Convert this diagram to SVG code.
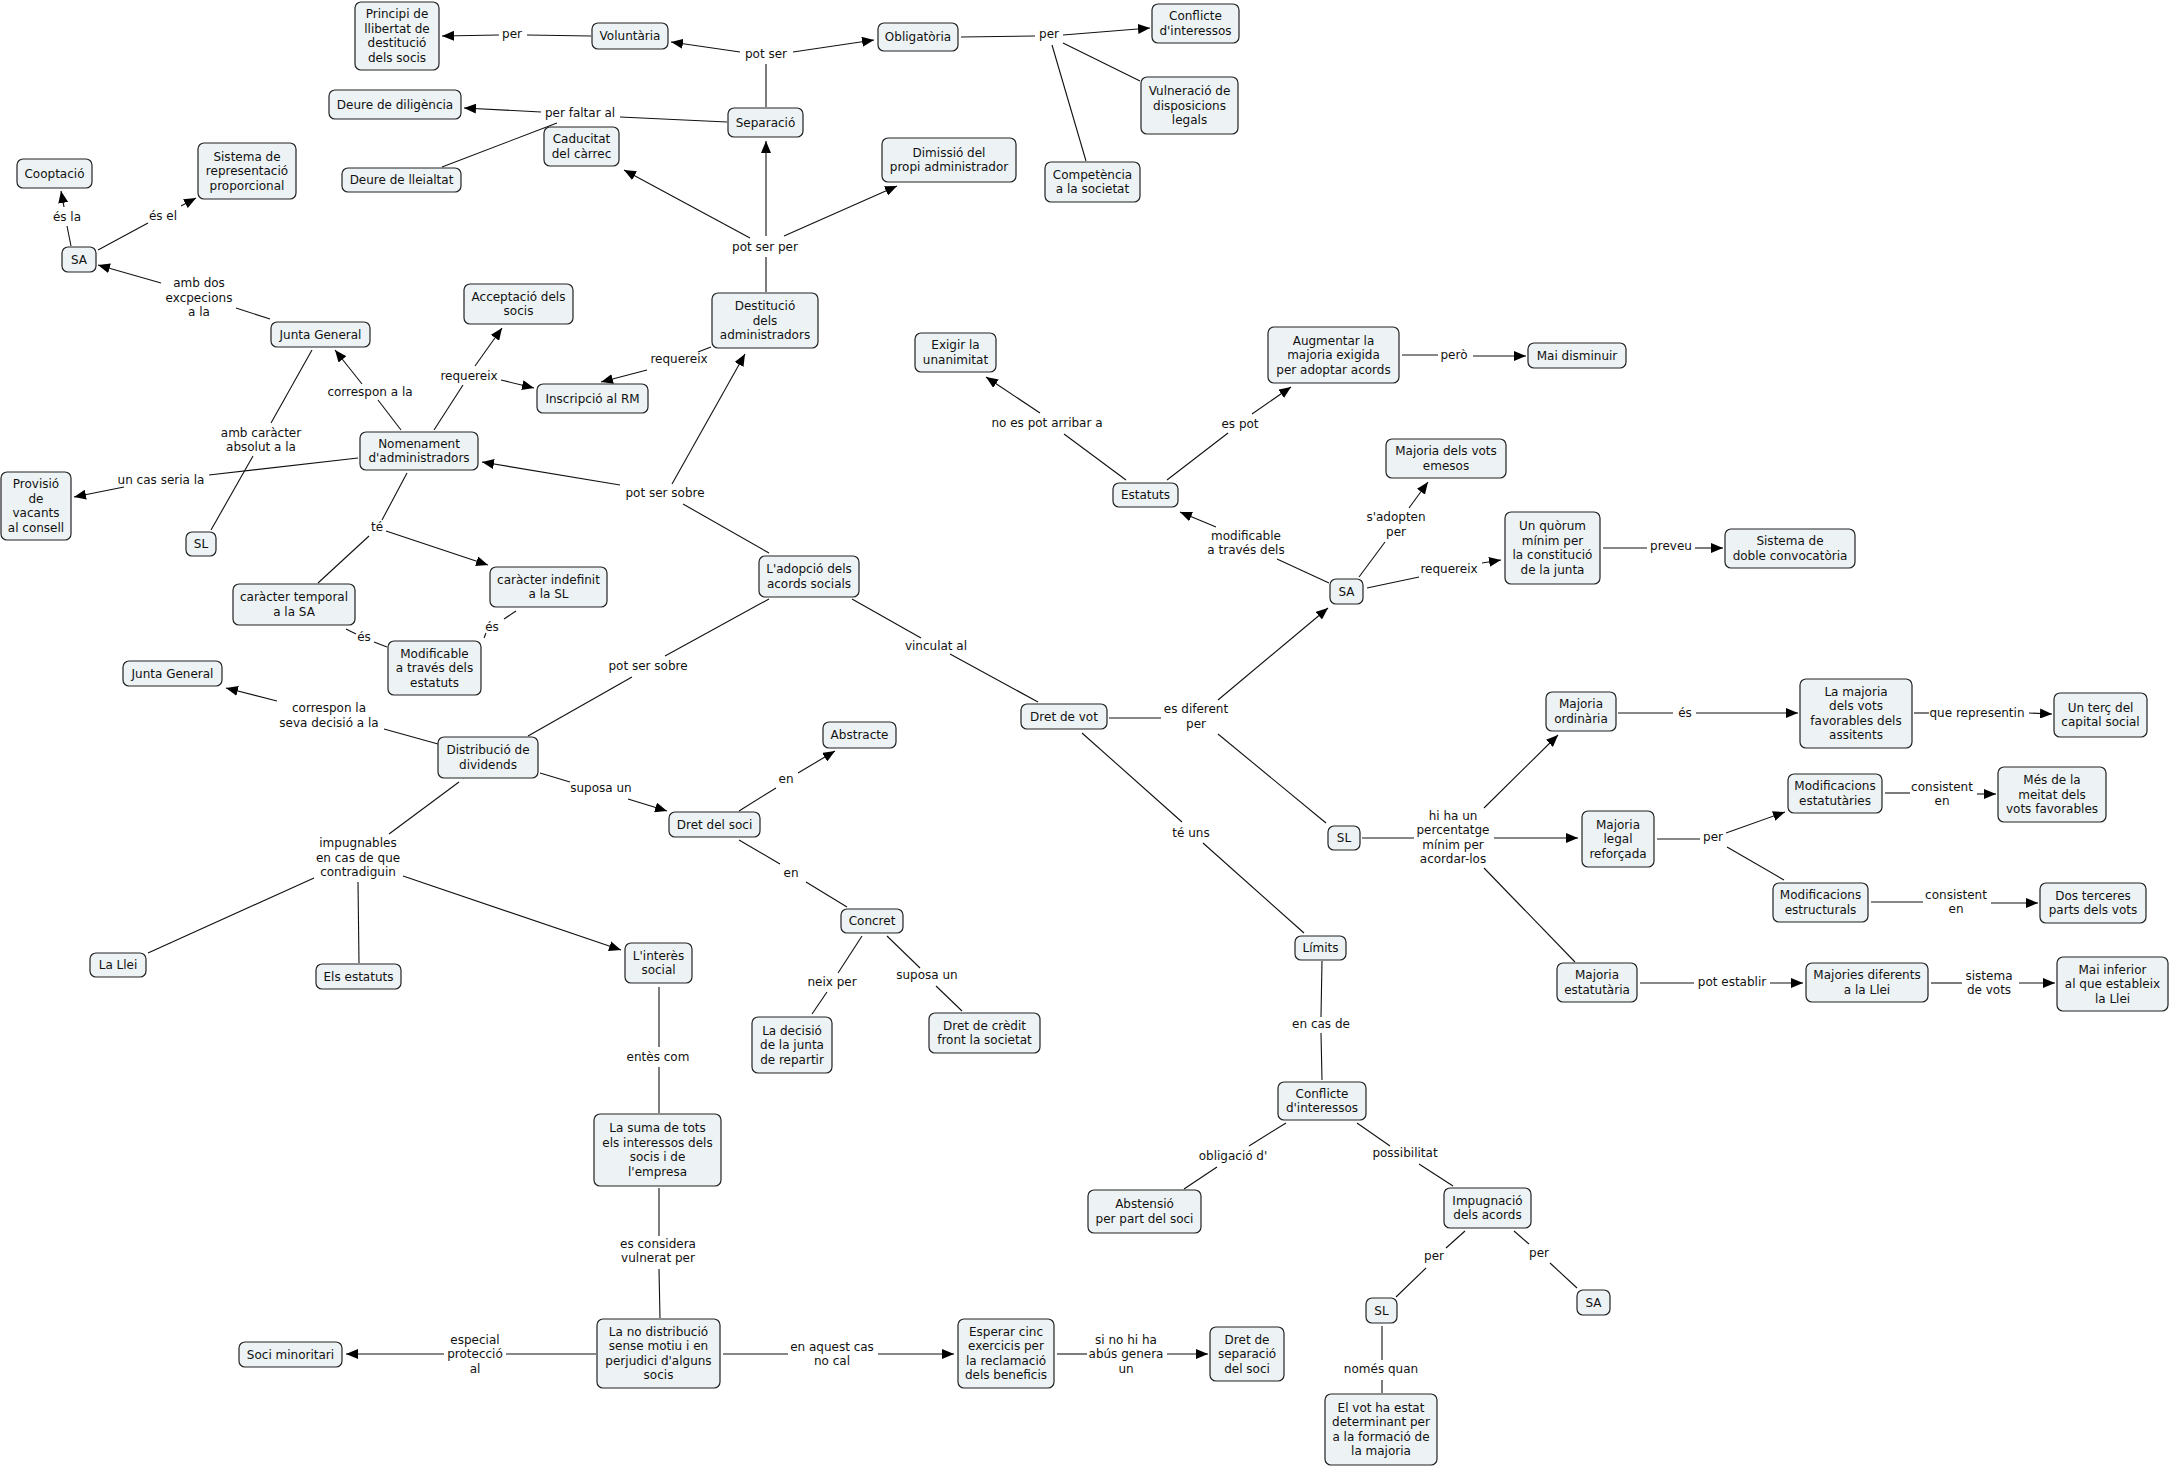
<svg xmlns="http://www.w3.org/2000/svg" width="2171" height="1467" viewBox="0 0 2171 1467">
<style>
.n rect{fill:#edf3f5;stroke:#222;stroke-width:1.2}
text{font-family:"DejaVu Sans",Verdana,"Liberation Sans",sans-serif;font-size:12px;fill:#111;text-anchor:middle}
.c line{stroke:#111;stroke-width:1.1}
.c .a{marker-end:url(#ah)}
</style>
<defs>
<marker id="ah" viewBox="0 0 12 10" refX="12" refY="5" markerWidth="12" markerHeight="10" markerUnits="userSpaceOnUse" orient="auto"><path d="M0,0 L12,5 L0,10 z" fill="#000"/></marker>
</defs>
<rect width="2171" height="1467" fill="#fff"/>
<g class="c" id="connectors">
<line x1="591" y1="36" x2="527" y2="35"/><line class="a" x1="499" y1="35" x2="442" y2="36"/>
<line x1="766" y1="107" x2="766" y2="64"/><line class="a" x1="740" y1="52" x2="671" y2="42"/><line class="a" x1="793" y1="52" x2="874" y2="40"/>
<line x1="961" y1="37" x2="1035" y2="36"/><line class="a" x1="1063" y1="35" x2="1150" y2="28"/><line x1="1063" y1="43" x2="1140" y2="81"/><line x1="1052" y1="45" x2="1086" y2="161"/>
<line x1="727" y1="122" x2="620" y2="117"/><line class="a" x1="541" y1="112" x2="464" y2="108"/><line x1="557" y1="123" x2="442" y2="167"/>
<line x1="766" y1="292" x2="766" y2="257"/><line class="a" x1="750" y1="238" x2="624" y2="170"/><line class="a" x1="766" y1="236" x2="766" y2="141"/><line class="a" x1="784" y1="236" x2="897" y2="186"/>
<line x1="71" y1="246" x2="67" y2="226"/><line class="a" x1="64" y1="207" x2="61" y2="191"/>
<line x1="98" y1="250" x2="148" y2="223"/><line class="a" x1="181" y1="206" x2="196" y2="198"/>
<line x1="270" y1="319" x2="236" y2="308"/><line class="a" x1="161" y1="283" x2="98" y2="265"/>
<line x1="401" y1="430" x2="378" y2="400"/><line class="a" x1="362" y1="384" x2="335" y2="350"/>
<line x1="434" y1="430" x2="463" y2="385"/><line class="a" x1="475" y1="366" x2="502" y2="328"/><line class="a" x1="501" y1="380" x2="534" y2="388"/>
<line x1="711" y1="347" x2="698" y2="352"/><line class="a" x1="647" y1="370" x2="601" y2="382"/>
<line x1="312" y1="350" x2="271" y2="423"/><line x1="253" y1="456" x2="211" y2="530"/>
<line x1="358" y1="458" x2="209" y2="475"/><line class="a" x1="124" y1="487" x2="74" y2="497"/>
<line x1="769" y1="553" x2="683" y2="504"/><line class="a" x1="620" y1="485" x2="482" y2="462"/><line class="a" x1="672" y1="484" x2="745" y2="354"/>
<line x1="407" y1="473" x2="382" y2="520"/><line x1="369" y1="536" x2="318" y2="583"/><line class="a" x1="386" y1="531" x2="488" y2="565"/>
<line x1="346" y1="629" x2="356" y2="634"/><line x1="374" y1="642" x2="387" y2="647"/>
<line x1="516" y1="611" x2="504" y2="619"/><line x1="486" y1="633" x2="484" y2="638"/>
<line x1="438" y1="744" x2="384" y2="729"/><line class="a" x1="277" y1="701" x2="226" y2="688"/>
<line x1="769" y1="599" x2="665" y2="656"/><line x1="632" y1="677" x2="528" y2="736"/>
<line x1="852" y1="599" x2="921" y2="638"/><line x1="950" y1="654" x2="1038" y2="702"/>
<line x1="540" y1="773" x2="570" y2="782"/><line class="a" x1="628" y1="799" x2="667" y2="811"/>
<line x1="739" y1="811" x2="776" y2="788"/><line class="a" x1="798" y1="773" x2="835" y2="751"/>
<line x1="739" y1="840" x2="780" y2="864"/><line x1="806" y1="882" x2="847" y2="907"/>
<line x1="459" y1="782" x2="389" y2="834"/><line x1="314" y1="878" x2="148" y2="953"/><line x1="358" y1="882" x2="359" y2="963"/><line class="a" x1="403" y1="876" x2="621" y2="950"/>
<line x1="862" y1="936" x2="838" y2="973"/><line x1="827" y1="992" x2="812" y2="1014"/>
<line x1="887" y1="936" x2="920" y2="968"/><line x1="936" y1="986" x2="962" y2="1011"/>
<line x1="659" y1="987" x2="659" y2="1047"/><line x1="659" y1="1067" x2="659" y2="1113"/>
<line x1="659" y1="1188" x2="659" y2="1236"/><line x1="659" y1="1269" x2="660" y2="1318"/>
<line x1="596" y1="1354" x2="506" y2="1354"/><line class="a" x1="444" y1="1354" x2="346" y2="1354"/>
<line x1="723" y1="1354" x2="788" y2="1354"/><line class="a" x1="878" y1="1354" x2="954" y2="1354"/>
<line x1="1057" y1="1354" x2="1087" y2="1354"/><line class="a" x1="1167" y1="1354" x2="1208" y2="1354"/>
<line x1="1126" y1="480" x2="1064" y2="434"/><line class="a" x1="1040" y1="413" x2="986" y2="377"/>
<line x1="1167" y1="480" x2="1228" y2="433"/><line class="a" x1="1252" y1="414" x2="1291" y2="387"/>
<line x1="1402" y1="355" x2="1438" y2="355"/><line class="a" x1="1473" y1="356" x2="1526" y2="356"/>
<line x1="1329" y1="583" x2="1277" y2="559"/><line class="a" x1="1216" y1="527" x2="1180" y2="512"/>
<line x1="1359" y1="577" x2="1385" y2="542"/><line class="a" x1="1409" y1="508" x2="1428" y2="482"/>
<line x1="1367" y1="588" x2="1419" y2="577"/><line class="a" x1="1482" y1="563" x2="1501" y2="560"/>
<line x1="1603" y1="548" x2="1647" y2="548"/><line class="a" x1="1695" y1="548" x2="1723" y2="548"/>
<line x1="1109" y1="718" x2="1161" y2="718"/><line class="a" x1="1218" y1="700" x2="1328" y2="608"/><line x1="1218" y1="734" x2="1326" y2="823"/>
<line x1="1082" y1="733" x2="1182" y2="822"/><line x1="1203" y1="843" x2="1304" y2="933"/>
<line x1="1362" y1="838" x2="1414" y2="838"/><line class="a" x1="1484" y1="808" x2="1558" y2="735"/><line class="a" x1="1494" y1="838" x2="1578" y2="838"/><line x1="1484" y1="868" x2="1575" y2="962"/>
<line x1="1618" y1="713" x2="1673" y2="713"/><line class="a" x1="1696" y1="713" x2="1798" y2="713"/>
<line x1="1914" y1="713" x2="1929" y2="713"/><line class="a" x1="2029" y1="713" x2="2052" y2="714"/>
<line x1="1657" y1="839" x2="1700" y2="839"/><line class="a" x1="1726" y1="833" x2="1785" y2="812"/><line x1="1727" y1="847" x2="1784" y2="880"/>
<line x1="1885" y1="793" x2="1910" y2="793"/><line class="a" x1="1977" y1="794" x2="1996" y2="794"/>
<line x1="1871" y1="902" x2="1923" y2="902"/><line class="a" x1="1991" y1="903" x2="2038" y2="903"/>
<line x1="1640" y1="983" x2="1694" y2="983"/><line class="a" x1="1770" y1="983" x2="1803" y2="983"/>
<line x1="1931" y1="983" x2="1962" y2="983"/><line class="a" x1="2019" y1="983" x2="2055" y2="983"/>
<line x1="1322" y1="961" x2="1321" y2="1017"/><line x1="1321" y1="1033" x2="1322" y2="1080"/>
<line x1="1286" y1="1123" x2="1249" y2="1146"/><line x1="1217" y1="1167" x2="1184" y2="1189"/>
<line x1="1357" y1="1123" x2="1390" y2="1146"/><line x1="1419" y1="1164" x2="1453" y2="1186"/>
<line x1="1465" y1="1231" x2="1446" y2="1248"/><line x1="1426" y1="1268" x2="1396" y2="1297"/>
<line x1="1514" y1="1231" x2="1529" y2="1244"/><line x1="1550" y1="1263" x2="1577" y2="1288"/>
<line x1="1382" y1="1326" x2="1382" y2="1360"/><line x1="1382" y1="1380" x2="1382" y2="1393"/>
</g>
<g id="labels">
<text x="512" y="38">per</text>
<text x="766" y="58">pot ser</text>
<text x="1049" y="38">per</text>
<text x="580" y="117">per faltar al</text>
<text x="765" y="251">pot ser per</text>
<text x="67" y="221">és la</text>
<text x="163" y="220">és el</text>
<text x="199" y="287">amb dos</text><text x="199" y="302">excpecions</text><text x="199" y="316">a la</text>
<text x="370" y="396">correspon a la</text>
<text x="469" y="380">requereix</text>
<text x="679" y="363">requereix</text>
<text x="261" y="437">amb caràcter</text><text x="261" y="451">absolut a la</text>
<text x="161" y="484">un cas seria la</text>
<text x="665" y="497">pot ser sobre</text>
<text x="377" y="531">té</text>
<text x="364" y="641">és</text>
<text x="492" y="631">és</text>
<text x="329" y="712">correspon la</text><text x="329" y="727">seva decisió a la</text>
<text x="648" y="670">pot ser sobre</text>
<text x="936" y="650">vinculat al</text>
<text x="601" y="792">suposa un</text>
<text x="786" y="783">en</text>
<text x="791" y="877">en</text>
<text x="358" y="847">impugnables</text><text x="358" y="862">en cas de que</text><text x="358" y="876">contradiguin</text>
<text x="832" y="986">neix per</text>
<text x="927" y="979">suposa un</text>
<text x="658" y="1061">entès com</text>
<text x="658" y="1248">es considera</text><text x="658" y="1262">vulnerat per</text>
<text x="475" y="1344">especial</text><text x="475" y="1358">protecció</text><text x="475" y="1373">al</text>
<text x="832" y="1351">en aquest cas</text><text x="832" y="1365">no cal</text>
<text x="1126" y="1344">si no hi ha</text><text x="1126" y="1358">abús genera</text><text x="1126" y="1373">un</text>
<text x="1047" y="427">no es pot arribar a</text>
<text x="1240" y="428">es pot</text>
<text x="1454" y="359">però</text>
<text x="1246" y="540">modificable</text><text x="1246" y="554">a través dels</text>
<text x="1396" y="521">s'adopten</text><text x="1396" y="536">per</text>
<text x="1449" y="573">requereix</text>
<text x="1671" y="550">preveu</text>
<text x="1196" y="713">es diferent</text><text x="1196" y="728">per</text>
<text x="1191" y="837">té uns</text>
<text x="1453" y="820">hi ha un</text><text x="1453" y="834">percentatge</text><text x="1453" y="849">mínim per</text><text x="1453" y="863">acordar-los</text>
<text x="1685" y="717">és</text>
<text x="1977" y="717">que representin</text>
<text x="1713" y="841">per</text>
<text x="1942" y="791">consistent</text><text x="1942" y="805">en</text>
<text x="1956" y="899">consistent</text><text x="1956" y="913">en</text>
<text x="1732" y="986">pot establir</text>
<text x="1989" y="980">sistema</text><text x="1989" y="994">de vots</text>
<text x="1321" y="1028">en cas de</text>
<text x="1233" y="1160">obligació d'</text>
<text x="1405" y="1157">possibilitat</text>
<text x="1434" y="1260">per</text>
<text x="1539" y="1257">per</text>
<text x="1381" y="1373">només quan</text>
</g>
<g class="n" id="n-principi"><rect x="355" y="2" width="84" height="68" rx="6"/><text x="397"><tspan x="397" y="18.25">Principi de</tspan><tspan x="397" y="32.75">llibertat de</tspan><tspan x="397" y="47.25">destitució</tspan><tspan x="397" y="61.75">dels socis</tspan></text></g>
<g class="n" id="n-voluntaria"><rect x="592" y="23" width="76" height="26" rx="6"/><text x="630" y="40">Voluntària</text></g>
<g class="n" id="n-obligatoria"><rect x="878" y="23" width="80" height="28" rx="6"/><text x="918" y="41">Obligatòria</text></g>
<g class="n" id="n-conflicte1"><rect x="1152" y="4" width="87" height="39" rx="6"/><text><tspan x="1195.5" y="20.25">Conflicte</tspan><tspan x="1195.5" y="34.75">d'interessos</tspan></text></g>
<g class="n" id="n-vulneracio"><rect x="1141" y="77" width="97" height="57" rx="6"/><text><tspan x="1189.5" y="95">Vulneració de</tspan><tspan x="1189.5" y="109.5">disposicions</tspan><tspan x="1189.5" y="124">legals</tspan></text></g>
<g class="n" id="n-competencia"><rect x="1045" y="162" width="95" height="40" rx="6"/><text><tspan x="1092.5" y="178.75">Competència</tspan><tspan x="1092.5" y="193.25">a la societat</tspan></text></g>
<g class="n" id="n-diligencia"><rect x="329" y="90" width="132" height="29" rx="6"/><text x="395" y="108.5">Deure de diligència</text></g>
<g class="n" id="n-separacio"><rect x="728" y="108" width="75" height="29" rx="6"/><text x="765.5" y="126.5">Separació</text></g>
<g class="n" id="n-caducitat"><rect x="544" y="127" width="75" height="39" rx="6"/><text><tspan x="581.5" y="143.25">Caducitat</tspan><tspan x="581.5" y="157.75">del càrrec</tspan></text></g>
<g class="n" id="n-dimissio"><rect x="882" y="138" width="134" height="44" rx="6"/><text><tspan x="949" y="156.75">Dimissió del</tspan><tspan x="949" y="171.25">propi administrador</tspan></text></g>
<g class="n" id="n-lleialtat"><rect x="342" y="168" width="119" height="24" rx="6"/><text x="401.5" y="184">Deure de lleialtat</text></g>
<g class="n" id="n-cooptacio"><rect x="17" y="159" width="75" height="29" rx="6"/><text x="54.5" y="177.5">Cooptació</text></g>
<g class="n" id="n-sistemarep"><rect x="198" y="143" width="98" height="56" rx="6"/><text><tspan x="247" y="160.5">Sistema de</tspan><tspan x="247" y="175">representació</tspan><tspan x="247" y="189.5">proporcional</tspan></text></g>
<g class="n" id="n-sa1"><rect x="62" y="247" width="34" height="25" rx="6"/><text x="79" y="263.5">SA</text></g>
<g class="n" id="n-junta1"><rect x="271" y="322" width="99" height="25" rx="6"/><text x="320.5" y="338.5">Junta General</text></g>
<g class="n" id="n-acceptacio"><rect x="464" y="284" width="109" height="40" rx="6"/><text><tspan x="518.5" y="300.75">Acceptació dels</tspan><tspan x="518.5" y="315.25">socis</tspan></text></g>
<g class="n" id="n-destitucio"><rect x="712" y="293" width="106" height="55" rx="6"/><text><tspan x="765" y="310">Destitució</tspan><tspan x="765" y="324.5">dels</tspan><tspan x="765" y="339">administradors</tspan></text></g>
<g class="n" id="n-inscripcio"><rect x="537" y="384" width="111" height="29" rx="6"/><text x="592.5" y="402.5">Inscripció al RM</text></g>
<g class="n" id="n-nomenament"><rect x="360" y="432" width="118" height="38" rx="6"/><text><tspan x="419" y="447.75">Nomenament</tspan><tspan x="419" y="462.25">d'administradors</tspan></text></g>
<g class="n" id="n-provisio"><rect x="1" y="472" width="70" height="68" rx="6"/><text><tspan x="36" y="488.25">Provisió</tspan><tspan x="36" y="502.75">de</tspan><tspan x="36" y="517.25">vacants</tspan><tspan x="36" y="531.75">al consell</tspan></text></g>
<g class="n" id="n-sl1"><rect x="186" y="532" width="30" height="24" rx="6"/><text x="201" y="548">SL</text></g>
<g class="n" id="n-exigir"><rect x="915" y="333" width="81" height="39" rx="6"/><text><tspan x="955.5" y="349.25">Exigir la</tspan><tspan x="955.5" y="363.75">unanimitat</tspan></text></g>
<g class="n" id="n-augmentar"><rect x="1268" y="327" width="131" height="56" rx="6"/><text><tspan x="1333.5" y="344.5">Augmentar la</tspan><tspan x="1333.5" y="359">majoria exigida</tspan><tspan x="1333.5" y="373.5">per adoptar acords</tspan></text></g>
<g class="n" id="n-maidisminuir"><rect x="1528" y="343" width="98" height="25" rx="6"/><text x="1577" y="359.5">Mai disminuir</text></g>
<g class="n" id="n-majoriaemesos"><rect x="1386" y="439" width="120" height="39" rx="6"/><text><tspan x="1446" y="455.25">Majoria dels vots</tspan><tspan x="1446" y="469.75">emesos</tspan></text></g>
<g class="n" id="n-estatuts"><rect x="1113" y="483" width="65" height="24" rx="6"/><text x="1145.5" y="499">Estatuts</text></g>
<g class="n" id="n-sa2"><rect x="1330" y="579" width="33" height="25" rx="6"/><text x="1346.5" y="595.5">SA</text></g>
<g class="n" id="n-quorum"><rect x="1505" y="512" width="95" height="72" rx="6"/><text><tspan x="1552.5" y="530.25">Un quòrum</tspan><tspan x="1552.5" y="544.75">mínim per</tspan><tspan x="1552.5" y="559.25">la constitució</tspan><tspan x="1552.5" y="573.75">de la junta</tspan></text></g>
<g class="n" id="n-dobleconv"><rect x="1725" y="529" width="130" height="39" rx="6"/><text><tspan x="1790" y="545.25">Sistema de</tspan><tspan x="1790" y="559.75">doble convocatòria</tspan></text></g>
<g class="n" id="n-adopcio"><rect x="759" y="556" width="100" height="41" rx="6"/><text><tspan x="809" y="573.25">L'adopció dels</tspan><tspan x="809" y="587.75">acords socials</tspan></text></g>
<g class="n" id="n-temporal"><rect x="233" y="584" width="122" height="41" rx="6"/><text><tspan x="294" y="601.25">caràcter temporal</tspan><tspan x="294" y="615.75">a la SA</tspan></text></g>
<g class="n" id="n-indefinit"><rect x="490" y="567" width="117" height="40" rx="6"/><text><tspan x="548.5" y="583.75">caràcter indefinit</tspan><tspan x="548.5" y="598.25">a la SL</tspan></text></g>
<g class="n" id="n-modificable"><rect x="388" y="641" width="93" height="54" rx="6"/><text><tspan x="434.5" y="657.5">Modificable</tspan><tspan x="434.5" y="672">a través dels</tspan><tspan x="434.5" y="686.5">estatuts</tspan></text></g>
<g class="n" id="n-junta2"><rect x="123" y="661" width="99" height="25" rx="6"/><text x="172.5" y="677.5">Junta General</text></g>
<g class="n" id="n-distribucio"><rect x="438" y="737" width="100" height="41" rx="6"/><text><tspan x="488" y="754.25">Distribució de</tspan><tspan x="488" y="768.75">dividends</tspan></text></g>
<g class="n" id="n-abstracte"><rect x="823" y="722" width="73" height="26" rx="6"/><text x="859.5" y="739">Abstracte</text></g>
<g class="n" id="n-dretvot"><rect x="1021" y="704" width="86" height="25" rx="6"/><text x="1064" y="720.5">Dret de vot</text></g>
<g class="n" id="n-majord"><rect x="1546" y="692" width="70" height="39" rx="6"/><text><tspan x="1581" y="708.25">Majoria</tspan><tspan x="1581" y="722.75">ordinària</tspan></text></g>
<g class="n" id="n-majoriafav"><rect x="1800" y="679" width="112" height="69" rx="6"/><text><tspan x="1856" y="695.75">La majoria</tspan><tspan x="1856" y="710.25">dels vots</tspan><tspan x="1856" y="724.75">favorables dels</tspan><tspan x="1856" y="739.25">assitents</tspan></text></g>
<g class="n" id="n-terccapital"><rect x="2054" y="693" width="93" height="44" rx="6"/><text><tspan x="2100.5" y="711.75">Un terç del</tspan><tspan x="2100.5" y="726.25">capital social</tspan></text></g>
<g class="n" id="n-modestat"><rect x="1788" y="774" width="94" height="39" rx="6"/><text><tspan x="1835" y="790.25">Modificacions</tspan><tspan x="1835" y="804.75">estatutàries</tspan></text></g>
<g class="n" id="n-mesmeitat"><rect x="1998" y="767" width="108" height="55" rx="6"/><text><tspan x="2052" y="784">Més de la</tspan><tspan x="2052" y="798.5">meitat dels</tspan><tspan x="2052" y="813">vots favorables</tspan></text></g>
<g class="n" id="n-dretsoci"><rect x="669" y="812" width="91" height="25" rx="6"/><text x="714.5" y="828.5">Dret del soci</text></g>
<g class="n" id="n-sl2"><rect x="1328" y="826" width="32" height="24" rx="6"/><text x="1344" y="842">SL</text></g>
<g class="n" id="n-majlegal"><rect x="1582" y="811" width="72" height="56" rx="6"/><text><tspan x="1618" y="828.5">Majoria</tspan><tspan x="1618" y="843">legal</tspan><tspan x="1618" y="857.5">reforçada</tspan></text></g>
<g class="n" id="n-modestruct"><rect x="1773" y="883" width="95" height="39" rx="6"/><text><tspan x="1820.5" y="899.25">Modificacions</tspan><tspan x="1820.5" y="913.75">estructurals</tspan></text></g>
<g class="n" id="n-dosterceres"><rect x="2040" y="883" width="106" height="40" rx="6"/><text><tspan x="2093" y="899.75">Dos terceres</tspan><tspan x="2093" y="914.25">parts dels vots</tspan></text></g>
<g class="n" id="n-concret"><rect x="841" y="909" width="62" height="24" rx="6"/><text x="872" y="925">Concret</text></g>
<g class="n" id="n-limits"><rect x="1295" y="936" width="51" height="24" rx="6"/><text x="1320.5" y="952">Límits</text></g>
<g class="n" id="n-lallei"><rect x="90" y="953" width="56" height="24" rx="6"/><text x="118" y="969">La Llei</text></g>
<g class="n" id="n-elsestatuts"><rect x="316" y="964" width="85" height="25" rx="6"/><text x="358.5" y="980.5">Els estatuts</text></g>
<g class="n" id="n-interes"><rect x="625" y="943" width="67" height="40" rx="6"/><text><tspan x="658.5" y="959.75">L'interès</tspan><tspan x="658.5" y="974.25">social</tspan></text></g>
<g class="n" id="n-majestat"><rect x="1557" y="963" width="80" height="39" rx="6"/><text><tspan x="1597" y="979.25">Majoria</tspan><tspan x="1597" y="993.75">estatutària</tspan></text></g>
<g class="n" id="n-majoriesdif"><rect x="1806" y="963" width="122" height="39" rx="6"/><text><tspan x="1867" y="979.25">Majories diferents</tspan><tspan x="1867" y="993.75">a la Llei</tspan></text></g>
<g class="n" id="n-maiinferior"><rect x="2057" y="957" width="111" height="54" rx="6"/><text><tspan x="2112.5" y="973.5">Mai inferior</tspan><tspan x="2112.5" y="988">al que estableix</tspan><tspan x="2112.5" y="1002.5">la Llei</tspan></text></g>
<g class="n" id="n-decisio"><rect x="752" y="1017" width="80" height="56" rx="6"/><text><tspan x="792" y="1034.5">La decisió</tspan><tspan x="792" y="1049">de la junta</tspan><tspan x="792" y="1063.5">de repartir</tspan></text></g>
<g class="n" id="n-credit"><rect x="929" y="1013" width="111" height="40" rx="6"/><text><tspan x="984.5" y="1029.75">Dret de crèdit</tspan><tspan x="984.5" y="1044.25">front la societat</tspan></text></g>
<g class="n" id="n-conflicte2"><rect x="1278" y="1082" width="88" height="38" rx="6"/><text><tspan x="1322" y="1097.75">Conflicte</tspan><tspan x="1322" y="1112.25">d'interessos</tspan></text></g>
<g class="n" id="n-suma"><rect x="594" y="1114" width="127" height="72" rx="6"/><text><tspan x="657.5" y="1132.25">La suma de tots</tspan><tspan x="657.5" y="1146.75">els interessos dels</tspan><tspan x="657.5" y="1161.25">socis i de</tspan><tspan x="657.5" y="1175.75">l'empresa</tspan></text></g>
<g class="n" id="n-abstensio"><rect x="1088" y="1190" width="113" height="43" rx="6"/><text><tspan x="1144.5" y="1208.25">Abstensió</tspan><tspan x="1144.5" y="1222.75">per part del soci</tspan></text></g>
<g class="n" id="n-impugnacio"><rect x="1444" y="1188" width="87" height="40" rx="6"/><text><tspan x="1487.5" y="1204.75">Impugnació</tspan><tspan x="1487.5" y="1219.25">dels acords</tspan></text></g>
<g class="n" id="n-sl3"><rect x="1366" y="1298" width="31" height="25" rx="6"/><text x="1381.5" y="1314.5">SL</text></g>
<g class="n" id="n-sa3"><rect x="1577" y="1290" width="33" height="25" rx="6"/><text x="1593.5" y="1306.5">SA</text></g>
<g class="n" id="n-lano"><rect x="597" y="1319" width="123" height="69" rx="6"/><text><tspan x="658.5" y="1335.75">La no distribució</tspan><tspan x="658.5" y="1350.25">sense motiu i en</tspan><tspan x="658.5" y="1364.75">perjudici d'alguns</tspan><tspan x="658.5" y="1379.25">socis</tspan></text></g>
<g class="n" id="n-esperar"><rect x="958" y="1319" width="96" height="69" rx="6"/><text><tspan x="1006" y="1335.75">Esperar cinc</tspan><tspan x="1006" y="1350.25">exercicis per</tspan><tspan x="1006" y="1364.75">la reclamació</tspan><tspan x="1006" y="1379.25">dels beneficis</tspan></text></g>
<g class="n" id="n-separaciosoci"><rect x="1210" y="1327" width="74" height="54" rx="6"/><text><tspan x="1247" y="1343.5">Dret de</tspan><tspan x="1247" y="1358">separació</tspan><tspan x="1247" y="1372.5">del soci</tspan></text></g>
<g class="n" id="n-socimin"><rect x="239" y="1342" width="103" height="25" rx="6"/><text x="290.5" y="1358.5">Soci minoritari</text></g>
<g class="n" id="n-elvot"><rect x="1325" y="1394" width="112" height="71" rx="6"/><text><tspan x="1381" y="1411.75">El vot ha estat</tspan><tspan x="1381" y="1426.25">determinant per</tspan><tspan x="1381" y="1440.75">a la formació de</tspan><tspan x="1381" y="1455.25">la majoria</tspan></text></g>
</svg>
